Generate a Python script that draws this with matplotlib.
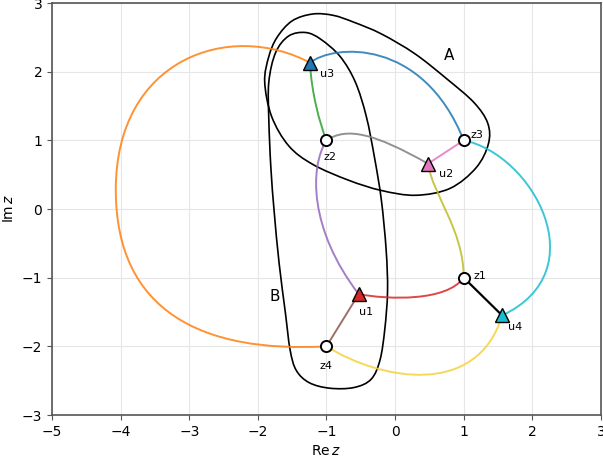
import matplotlib
matplotlib.use("Agg")
import matplotlib.pyplot as plt
from matplotlib.path import Path
from matplotlib.patches import PathPatch

# circle nodes
z_names = ["z1", "z2", "z3", "z4"]
z_x = [1.0, -1.0, 1.0, -1.0]
z_y = [-1.0, 1.0, 1.0, -2.0]

# triangle nodes
u_names = ["u1", "u2", "u3", "u4"]
u_x = [-0.53, 0.48, -1.24, 1.56]
u_y = [-1.24, 0.66, 2.13, -1.55]
u_colors = ["#d62728", "#e377c2", "#1f77b4", "#17becf"]

# edges as bezier vertex lists (2 points = straight segment)
edge_paths = [
    [(-1.24, 2.13), (-0.9, 2.4), (0.4, 2.5), (1.0, 1.0)],
    [(-1.24, 2.13), (-2.4, 2.75), (-4.07, 2.2), (-4.07, 0.28),
     (-4.07, -1.5), (-2.8, -2.1), (-1.0, -2.0)],
    [(-1.24, 2.13), (-1.22, 1.7), (-1.1, 1.25), (-1.0, 1.0)],
    [(-0.53, -1.24), (-0.1, -1.32), (0.75, -1.35), (1.0, -1.0)],
    [(-1.0, 1.0), (-1.25, 0.6), (-1.25, -0.3), (-0.53, -1.24)],
    [(-1.0, -2.0), (-0.53, -1.24)],
    [(1.0, 1.0), (0.48, 0.66)],
    [(-1.0, 1.0), (-0.7, 1.2), (-0.3, 1.1), (0.48, 0.66)],
    [(0.48, 0.66), (0.55, 0.2), (1.0, -0.3), (1.0, -1.0)],
    [(1.0, 1.0), (2.0, 0.8), (2.95, -0.9), (1.56, -1.55)],
    [(-1.0, -2.0), (-0.2, -2.5), (1.2, -2.75), (1.56, -1.55)],
    [(1.0, -1.0), (1.56, -1.55)],
]
edge_colors = ["#1f77b4", "#ff7f0e", "#2ca02c", "#d62728", "#9467bd", "#8c564b",
               "#e377c2", "#7f7f7f", "#bcbd22", "#17becf", "#f5d23c", "black"]

# closed contours
a_x = [-1.20, -0.90, -0.60, -0.20, 0.29, 0.76, 1.15, 1.35, 1.36, 1.18, 0.80,
       0.30, -0.20, -0.68, -1.20, -1.55, -1.80, -1.90, -1.84, -1.72, -1.50]
a_y = [2.84, 2.82, 2.72, 2.55, 2.26, 1.89, 1.55, 1.25, 0.95, 0.60, 0.30,
       0.20, 0.27, 0.42, 0.65, 0.92, 1.35, 1.85, 2.22, 2.50, 2.74]
b_x = [-1.30, -1.08, -0.80, -0.58, -0.42, -0.30, -0.20, -0.13, -0.11, -0.15,
       -0.22, -0.35, -0.60, -0.95, -1.25, -1.44, -1.53, -1.60, -1.69, -1.76,
       -1.81, -1.84, -1.84, -1.74, -1.55]
b_y = [2.57, 2.47, 2.22, 1.85, 1.35, 0.75, 0.13, -0.60, -1.20, -1.75,
       -2.20, -2.48, -2.60, -2.61, -2.53, -2.35, -2.05, -1.50, -0.79, -0.06,
       0.60, 1.30, 1.85, 2.28, 2.52]


def bezier_patch(pts, **kw):
    if len(pts) == 2:
        codes = [Path.MOVETO, Path.LINETO]
    else:
        codes = [Path.MOVETO] + [Path.CURVE4] * (len(pts) - 1)
    return PathPatch(Path(pts, codes), fill=False, **kw)


def closed_patch(xs, ys, **kw):
    # catmull-rom control points -> cubic bezier path through the read points
    pts = list(zip(xs, ys))
    n = len(pts)
    verts = [pts[0]]
    codes = [Path.MOVETO]
    for i in range(n):
        p0, p1, p2, p3 = pts[i - 1], pts[i], pts[(i + 1) % n], pts[(i + 2) % n]
        c1 = (p1[0] + (p2[0] - p0[0]) / 6, p1[1] + (p2[1] - p0[1]) / 6)
        c2 = (p2[0] - (p3[0] - p1[0]) / 6, p2[1] - (p3[1] - p1[1]) / 6)
        verts += [c1, c2, p2]
        codes += [Path.CURVE4] * 3
    return PathPatch(Path(verts, codes), fill=False, **kw)


fig = plt.figure(figsize=(6.03, 4.57), dpi=100)
ax = fig.add_axes([0.0862, 0.0919, 0.9104, 0.9015])

ax.add_patch(closed_patch(a_x, a_y, edgecolor="black", lw=1.2, zorder=2))
ax.add_patch(closed_patch(b_x, b_y, edgecolor="black", lw=1.2, zorder=2))

for pts, c in zip(edge_paths, edge_colors):
    lw = 1.6 if c == "black" else 1.4
    alpha = 1.0 if c == "black" else 0.85
    ax.add_patch(bezier_patch(pts, edgecolor=c, lw=lw, alpha=alpha, zorder=3))

ax.plot(z_x, z_y, "o", ms=8, mfc="white", mec="black", mew=1.4, ls="none", zorder=5)
for x, y, c in zip(u_x, u_y, u_colors):
    ax.plot(x, y, "^", ms=10, mfc=c, mec="black", mew=1.0, zorder=5)

z_offsets = [(16, 2), (4, -17), (13, 5), (0, -20)]
u_offsets = [(7, -18), (18, -10), (17, -11), (13, -12)]
for name, x, y, off in zip(z_names, z_x, z_y, z_offsets):
    ax.annotate(name, (x, y), xytext=off, textcoords="offset pixels",
                ha="center", va="center", fontsize=8)
for name, x, y, off in zip(u_names, u_x, u_y, u_offsets):
    ax.annotate(name, (x, y), xytext=off, textcoords="offset pixels",
                ha="center", va="center", fontsize=8)

ax.text(0.79, 2.24, "A", fontsize=11, ha="center", va="center")
ax.text(-1.76, -1.27, "B", fontsize=11, ha="center", va="center")

ax.set_xlim(-5, 3)
ax.set_ylim(-3, 3)
ax.set_xticks(range(-5, 4))
ax.set_yticks(range(-3, 4))
ax.grid(True, color="#e6e6e6", lw=0.8)
ax.set_axisbelow(True)
for s in ax.spines.values():
    s.set_color("#555555")
    s.set_linewidth(1.2)
ax.tick_params(colors="#555555", labelcolor="black", labelsize=10)
ax.set_xlabel(r"$\mathrm{Re}\,z$", fontsize=10)
ax.set_ylabel(r"$\mathrm{Im}\,z$", fontsize=10)

fig.savefig("out.png", dpi=100)
